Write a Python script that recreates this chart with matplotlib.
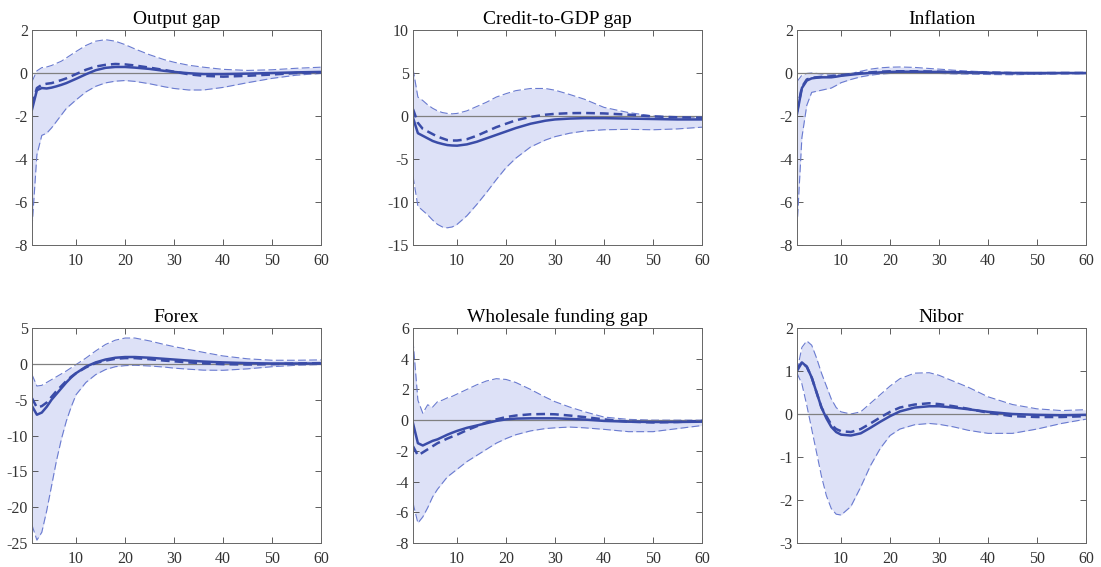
import matplotlib
matplotlib.use("Agg")
import matplotlib.pyplot as plt
import numpy as np

plt.rcParams["font.family"] = ["Liberation Serif", "DejaVu Serif"]

horizon = [1, 2, 3, 4, 5, 6, 7, 8, 9, 10, 12, 14, 16, 18, 20, 22, 25, 28, 30, 33, 36, 40, 45, 50, 55, 60]

titles = ["Output gap", "Credit-to-GDP gap", "Inflation",
          "Forex", "Wholesale funding gap", "Nibor"]

# Output gap
out_upper = [-0.4, 0.1, 0.25, 0.28, 0.35, 0.45, 0.55, 0.7, 0.85, 1.0, 1.28, 1.48, 1.55, 1.48, 1.32, 1.12, 0.85, 0.62, 0.5, 0.36, 0.27, 0.17, 0.12, 0.15, 0.22, 0.27]
out_lower = [-7.2, -3.8, -2.9, -2.8, -2.55, -2.25, -1.95, -1.65, -1.45, -1.25, -0.88, -0.62, -0.46, -0.38, -0.35, -0.39, -0.5, -0.64, -0.72, -0.79, -0.79, -0.67, -0.45, -0.25, -0.1, -0.02]
out_median = [-1.7, -0.8, -0.7, -0.72, -0.68, -0.62, -0.55, -0.47, -0.37, -0.27, -0.06, 0.13, 0.24, 0.28, 0.28, 0.25, 0.19, 0.1, 0.05, -0.01, -0.05, -0.05, -0.03, 0.0, 0.03, 0.05]
out_alt = [-1.5, -0.7, -0.55, -0.5, -0.47, -0.4, -0.33, -0.25, -0.15, -0.05, 0.15, 0.3, 0.38, 0.42, 0.4, 0.35, 0.25, 0.14, 0.06, -0.06, -0.13, -0.17, -0.13, -0.07, 0.0, 0.03]

# Credit-to-GDP gap
cred_upper = [5.5, 2.2, 1.8, 1.3, 0.9, 0.6, 0.4, 0.3, 0.25, 0.3, 0.6, 1.1, 1.6, 2.2, 2.6, 2.95, 3.2, 3.2, 3.0, 2.5, 1.95, 1.0, 0.4, 0.0, -0.1, -0.15]
cred_lower = [-7.0, -10.5, -11.0, -11.5, -12.1, -12.6, -12.9, -13.0, -12.9, -12.6, -11.6, -10.3, -8.9, -7.4, -6.0, -4.9, -3.6, -2.8, -2.4, -2.0, -1.75, -1.6, -1.55, -1.6, -1.5, -1.3]
cred_median = [-0.2, -2.0, -2.3, -2.6, -2.9, -3.1, -3.25, -3.38, -3.43, -3.45, -3.3, -3.0, -2.6, -2.2, -1.8, -1.4, -0.9, -0.55, -0.4, -0.3, -0.25, -0.25, -0.3, -0.35, -0.4, -0.4]
cred_alt = [0.8, -0.8, -1.5, -1.8, -2.1, -2.4, -2.6, -2.8, -2.85, -2.85, -2.7, -2.3, -1.8, -1.3, -0.9, -0.5, -0.1, 0.15, 0.25, 0.33, 0.35, 0.3, 0.15, -0.05, -0.15, -0.2]

# Inflation
infl_upper = [-0.4, -0.1, -0.02, 0.0, -0.02, -0.05, -0.05, -0.05, -0.05, -0.05, -0.02, 0.08, 0.18, 0.24, 0.27, 0.28, 0.26, 0.21, 0.18, 0.13, 0.09, 0.05, 0.03, 0.02, 0.02, 0.02]
infl_lower = [-7.2, -3.0, -1.5, -0.9, -0.85, -0.8, -0.75, -0.7, -0.58, -0.45, -0.3, -0.18, -0.1, -0.05, -0.02, 0.0, 0.0, -0.01, -0.02, -0.04, -0.05, -0.07, -0.08, -0.06, -0.04, -0.03]
infl_median = [-1.9, -0.7, -0.35, -0.25, -0.22, -0.2, -0.2, -0.2, -0.17, -0.13, -0.08, -0.03, 0.0, 0.03, 0.05, 0.06, 0.06, 0.05, 0.05, 0.04, 0.03, 0.01, 0.0, 0.0, 0.0, 0.0]
infl_alt = [-1.8, -0.65, -0.3, -0.22, -0.2, -0.18, -0.17, -0.15, -0.12, -0.1, -0.05, 0.0, 0.03, 0.06, 0.08, 0.08, 0.08, 0.07, 0.06, 0.04, 0.03, 0.01, -0.01, -0.01, 0.0, 0.0]

# Forex
fx_upper = [-1.5, -3.1, -3.0, -2.6, -2.2, -1.8, -1.4, -1.0, -0.55, -0.1, 0.8, 1.8, 2.7, 3.3, 3.6, 3.6, 3.2, 2.7, 2.4, 2.0, 1.6, 1.1, 0.7, 0.5, 0.5, 0.55]
fx_lower = [-22.5, -24.6, -23.5, -20.5, -17.0, -13.5, -10.5, -8.0, -6.0, -4.3, -2.6, -1.5, -0.8, -0.4, -0.25, -0.2, -0.3, -0.45, -0.6, -0.75, -0.88, -0.9, -0.7, -0.4, -0.2, -0.1]
fx_median = [-5.9, -7.1, -6.8, -6.0, -5.0, -4.2, -3.4, -2.6, -1.9, -1.3, -0.4, 0.2, 0.6, 0.85, 0.95, 0.95, 0.85, 0.7, 0.6, 0.45, 0.32, 0.2, 0.1, 0.05, 0.05, 0.05]
fx_alt = [-4.8, -6.1, -5.9, -5.4, -4.6, -3.8, -3.1, -2.4, -1.8, -1.3, -0.5, 0.1, 0.45, 0.7, 0.8, 0.8, 0.65, 0.45, 0.35, 0.2, 0.07, -0.05, -0.1, -0.05, 0.05, 0.1]

# Wholesale funding gap
wf_upper = [5.2, 1.3, 0.45, 1.0, 0.85, 1.2, 1.3, 1.45, 1.55, 1.7, 2.0, 2.3, 2.55, 2.7, 2.65, 2.45, 2.0, 1.5, 1.2, 0.85, 0.55, 0.2, 0.05, 0.0, 0.0, 0.0]
wf_lower = [-5.4, -6.7, -6.3, -5.7, -5.0, -4.5, -4.1, -3.7, -3.45, -3.2, -2.7, -2.3, -1.9, -1.5, -1.2, -0.95, -0.7, -0.55, -0.5, -0.45, -0.5, -0.6, -0.75, -0.75, -0.55, -0.35]
wf_median = [-0.2, -1.5, -1.65, -1.5, -1.35, -1.25, -1.1, -0.95, -0.82, -0.7, -0.5, -0.35, -0.2, -0.05, 0.05, 0.1, 0.12, 0.12, 0.12, 0.08, 0.04, -0.05, -0.1, -0.12, -0.12, -0.1]
wf_alt = [-1.7, -2.3, -2.1, -1.9, -1.7, -1.5, -1.35, -1.2, -1.07, -0.95, -0.65, -0.4, -0.15, 0.05, 0.2, 0.3, 0.38, 0.4, 0.38, 0.3, 0.2, 0.05, -0.1, -0.15, -0.12, -0.05]

# Nibor
nib_upper = [1.0, 1.55, 1.7, 1.6, 1.3, 0.95, 0.65, 0.35, 0.15, 0.05, 0.0, 0.05, 0.25, 0.45, 0.65, 0.82, 0.95, 0.96, 0.9, 0.76, 0.62, 0.4, 0.22, 0.12, 0.08, 0.1]
nib_lower = [0.95, 0.7, 0.2, -0.35, -0.9, -1.45, -1.9, -2.2, -2.33, -2.35, -2.15, -1.7, -1.2, -0.8, -0.5, -0.35, -0.25, -0.22, -0.24, -0.3, -0.38, -0.45, -0.45, -0.35, -0.22, -0.12]
nib_median = [1.05, 1.2, 1.1, 0.85, 0.5, 0.15, -0.1, -0.3, -0.42, -0.48, -0.5, -0.45, -0.32, -0.18, -0.05, 0.06, 0.15, 0.18, 0.18, 0.15, 0.11, 0.05, 0.0, -0.02, -0.03, -0.02]
nib_alt = [1.0, 1.2, 1.1, 0.85, 0.5, 0.15, -0.05, -0.25, -0.35, -0.4, -0.42, -0.35, -0.22, -0.08, 0.05, 0.15, 0.22, 0.25, 0.23, 0.18, 0.12, 0.03, -0.05, -0.07, -0.07, -0.05]

panels = [
    (out_upper, out_lower, out_median, out_alt),
    (cred_upper, cred_lower, cred_median, cred_alt),
    (infl_upper, infl_lower, infl_median, infl_alt),
    (fx_upper, fx_lower, fx_median, fx_alt),
    (wf_upper, wf_lower, wf_median, wf_alt),
    (nib_upper, nib_lower, nib_median, nib_alt),
]

y_limits = [(-8, 2), (-15, 10), (-8, 2), (-25, 5), (-8, 6), (-3, 2)]
y_ticks = [np.arange(-8, 3, 2), np.arange(-15, 11, 5), np.arange(-8, 3, 2),
           np.arange(-25, 6, 5), np.arange(-8, 7, 2), np.arange(-3, 3, 1)]

line_col = "#3a4ca8"
band_col = "#dde1f7"
edge_col = "#6a7bd0"

fig = plt.figure(figsize=(11.01, 5.67), dpi=100)

lefts = [32, 413, 797]
tops = [30, 328]
w_px, h_px = 289, 215

for i, (upper, lower, median, alt) in enumerate(panels):
    row, col = divmod(i, 3)
    ax = fig.add_axes([lefts[col] / 1101, 1 - (tops[row] + h_px) / 567, w_px / 1101, h_px / 567])

    ax.fill_between(horizon, lower, upper, color=band_col, linewidth=0)
    ax.plot(horizon, upper, color=edge_col, linewidth=0.8, dashes=(7, 3))
    ax.plot(horizon, lower, color=edge_col, linewidth=0.8, dashes=(7, 3))
    ax.axhline(0, color="#808080", linewidth=0.9)
    ax.plot(horizon, median, color=line_col, linewidth=1.8)
    ax.plot(horizon, alt, color=line_col, linewidth=1.8, dashes=(3.5, 2))

    ax.set_xlim(1, 60)
    ax.set_ylim(*y_limits[i])
    ax.set_xticks([10, 20, 30, 40, 50, 60])
    ax.set_yticks(y_ticks[i])
    ax.set_yticklabels([str(int(v)) for v in y_ticks[i]])
    ax.tick_params(direction="in", top=True, right=True, length=4, width=0.6,
                   labelsize=11.5, colors="#444444", labelcolor="#333333")
    ax.tick_params(axis="x", pad=6)
    ax.tick_params(axis="y", pad=3)
    for s in ax.spines.values():
        s.set_color("#666666")
        s.set_linewidth(0.7)
    ax.set_title(titles[i], fontsize=14, pad=4)

fig.savefig("out.png", dpi=100)
